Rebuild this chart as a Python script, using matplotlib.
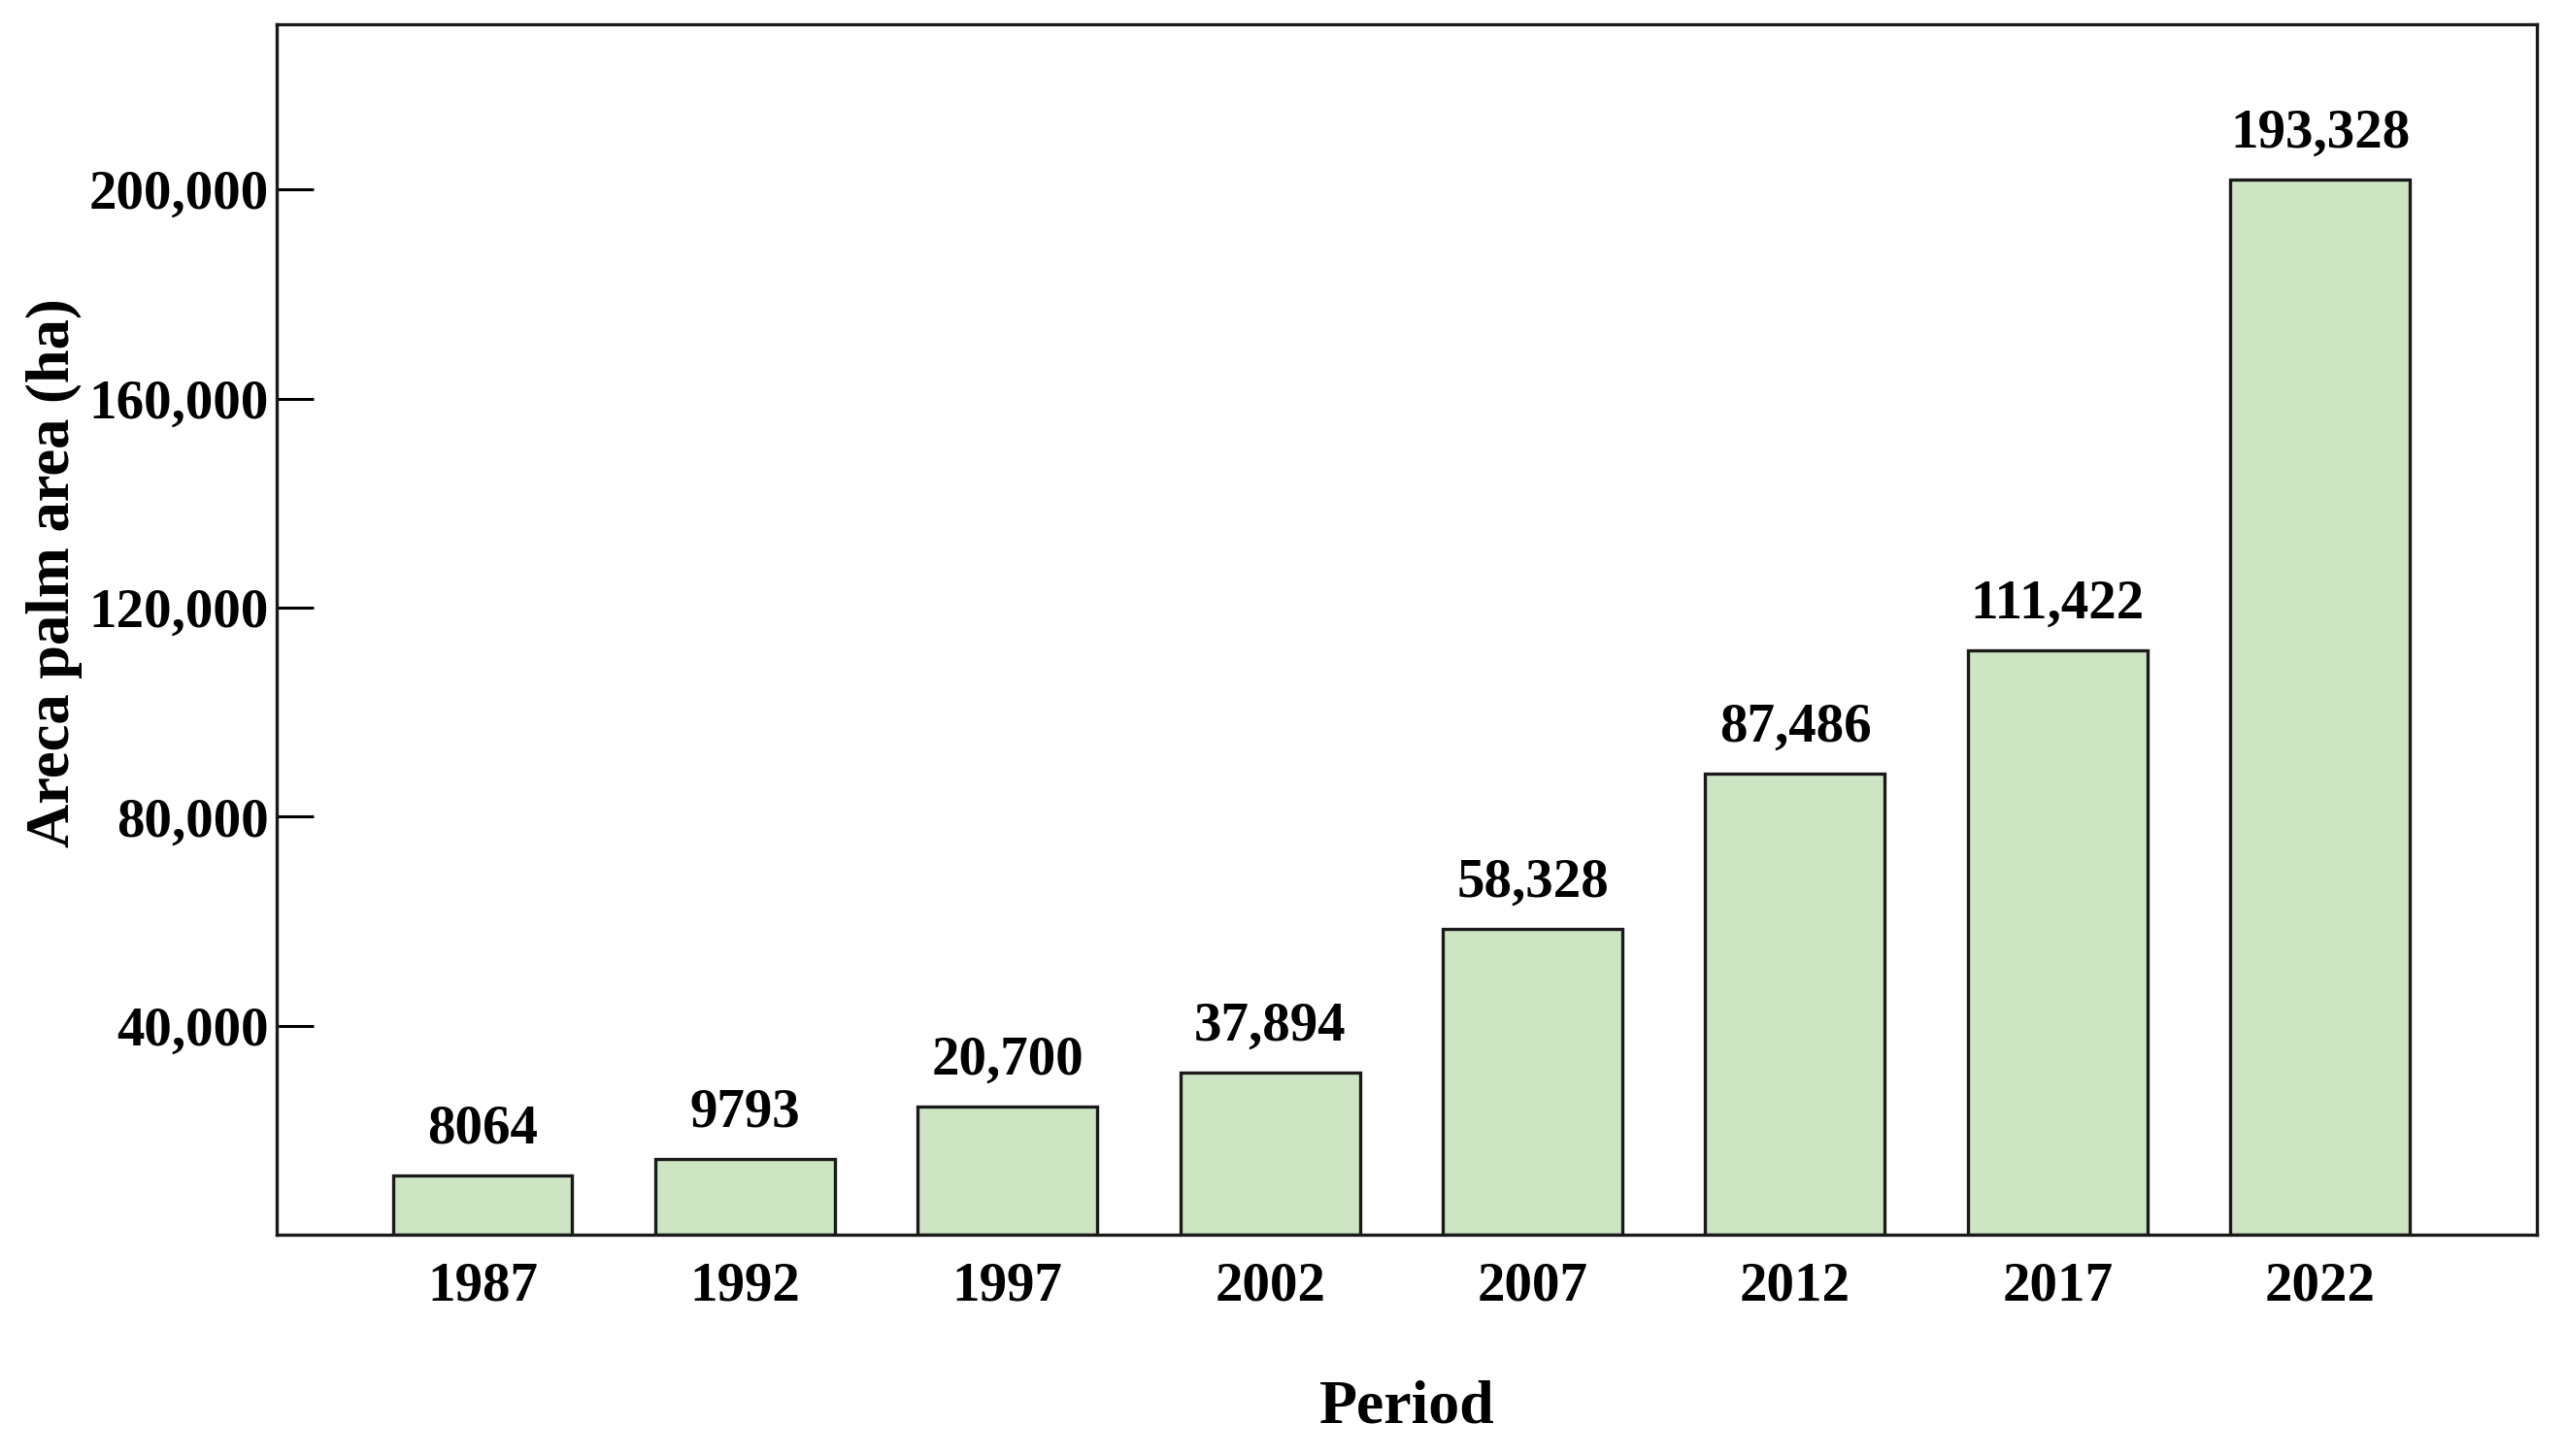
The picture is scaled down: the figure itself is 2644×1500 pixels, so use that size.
import matplotlib
matplotlib.use('Agg')
import matplotlib.pyplot as plt
import numpy as np

# data
periods = ['1987', '1992', '1997', '2002', '2007', '2012', '2017', '2022']
bar_heights = [11350, 14510, 24560, 31070, 58420, 88190, 111800, 201860]  # drawn heights
bar_labels = ['8064', '9793', '20,700', '37,894', '58,328', '87,486', '111,422', '193,328']
y_ticks = [40000, 80000, 120000, 160000, 200000]
y_tick_labels = ['40,000', '80,000', '120,000', '160,000', '200,000']

plt.rcParams['font.family'] = ['Liberation Serif', 'DejaVu Serif']
plt.rcParams['font.weight'] = 'bold'

fig = plt.figure(figsize=(13.22, 7.5), dpi=200)
ax = fig.add_axes([0.1078, 0.152, 0.8805, 0.8313])

x = np.arange(len(periods))
bars = ax.bar(x, bar_heights, width=0.684, color='#cde5c3', edgecolor='#1a1a1a', linewidth=1.2)

for b, lab in zip(bars, bar_labels):
    ax.annotate(lab, (b.get_x() + b.get_width() / 2, b.get_height()),
                xytext=(0, 12), textcoords='offset points',
                ha='center', va='baseline', fontsize=20.5, fontweight='bold')

ax.set_xlim(-0.784, 7.826)
ax.set_ylim(0, 231600)
ax.set_xticks(x)
ax.set_xticklabels(periods, fontsize=20.5, fontweight='bold')
ax.set_yticks(y_ticks)
ax.set_yticklabels(y_tick_labels, fontsize=20.5, fontweight='bold')
ax.tick_params(axis='x', length=0, pad=10)
ax.tick_params(axis='y', direction='in', length=13.5, width=1.1, pad=3)

for s in ax.spines.values():
    s.set_linewidth(1.2)
    s.set_color('#1a1a1a')

ax.set_xlabel('Period', fontsize=23, fontweight='bold', labelpad=25)
ax.set_ylabel('Areca palm area (ha)', fontsize=22.5, fontweight='bold')
ax.yaxis.set_label_coords(-0.086, 0.547)

fig.savefig('out.png', dpi=200)
